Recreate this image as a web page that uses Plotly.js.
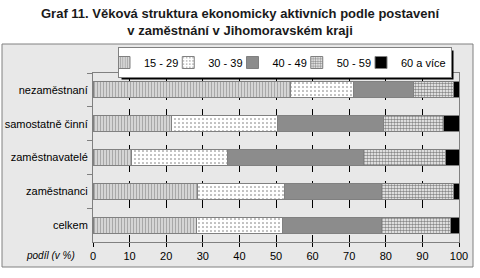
<!DOCTYPE html>
<html>
<head>
<meta charset="utf-8">
<script src="https://cdn.plot.ly/plotly-3.0.1.min.js"></script>
<style>html,body{margin:0;padding:0;background:#fff;}#chart{width:480px;height:278px;}</style>
</head>
<body>
<div id="chart"></div>
<script>
const categories = ["nezaměstnaní", "samostatně činní", "zaměstnavatelé", "zaměstnanci", "celkem"];
const seriesNames = ["15 - 29", "30 - 39", "40 - 49", "50 - 59", "60 a více"];
const v15_29 = [54.0, 21.5, 10.4, 28.6, 28.3];
const v30_39 = [17.3, 28.9, 26.4, 23.6, 23.5];
const v40_49 = [16.2, 29.1, 37.1, 26.7, 27.1];
const v50_59 = [10.9, 16.2, 22.5, 19.5, 18.8];
const v60plus = [1.6, 4.3, 3.6, 1.6, 2.3];
const xTicks = [0, 10, 20, 30, 40, 50, 60, 70, 80, 90, 100];

const seriesValues = [v15_29, v30_39, v40_49, v50_59, v60plus];
const styles = [
  {color: "#ffffff", pattern: {shape: "|", fgcolor: "#a8a8a8", bgcolor: "#ffffff", size: 3, solidity: 0.65}},
  {color: "#ffffff", pattern: {shape: ".", fgcolor: "#707070", bgcolor: "#ffffff", size: 4, solidity: 0.12}},
  {color: "#8c8c8c"},
  {color: "#ffffff", pattern: {shape: ".", fgcolor: "#8a8a8a", bgcolor: "#ffffff", size: 3, solidity: 0.55}},
  {color: "#000000"}
];

const traces = seriesNames.map((name, i) => ({
  type: "bar",
  orientation: "h",
  name: name,
  y: categories,
  x: seriesValues[i],
  marker: Object.assign({line: {color: "#808080", width: 1}}, styles[i]),
  hoverinfo: "x+name"
}));

const M = {l: 93, r: 21, t: 73, b: 36};
const plotW = 480 - M.l - M.r, plotH = 278 - M.t - M.b;
const pxToPaperX = px => (px - M.l) / plotW;
const pxToPaperY = py => (278 - M.b - py) / plotH;

const panelShape = {type: "rect", xref: "paper", yref: "paper",
  x0: pxToPaperX(2), x1: pxToPaperX(473), y0: pxToPaperY(267), y1: pxToPaperY(44),
  fillcolor: "#e8e8e8", line: {color: "#808080", width: 1}, layer: "below"};

const layout = {
  width: 480, height: 278,
  margin: M,
  paper_bgcolor: "#ffffff",
  plot_bgcolor: "#ffffff",
  barmode: "stack",
  bargap: 0.53,
  font: {family: "Liberation Sans, Arial, sans-serif", size: 11, color: "#000"},
  xaxis: {
    range: [0, 100], tickvals: xTicks, ticktext: xTicks.map(String),
    showgrid: true, gridcolor: "#000", griddash: "dash", gridwidth: 1,
    ticks: "outside", ticklen: 4, tickcolor: "#000",
    showline: true, linecolor: "#808080", mirror: true,
    zeroline: false, fixedrange: true
  },
  yaxis: {
    autorange: "reversed", type: "category",
    ticks: "outside", ticklen: 5, tickcolor: "#808080", tickson: "boundaries",
    showline: true, linecolor: "#808080", mirror: true,
    showgrid: false, ticklabelstandoff: 2, fixedrange: true
  },
  legend: {
    orientation: "h", x: pxToPaperX(285), xanchor: "center", y: pxToPaperY(47), yanchor: "top",
    bgcolor: "#ffffff", bordercolor: "#808080", borderwidth: 1,
    font: {size: 11}, itemwidth: 30, indentation: -15, traceorder: "normal", itemclick: false
  },
  shapes: [panelShape],
  annotations: [
    {text: "<b>Graf 11. Věková struktura ekonomicky aktivních podle postavení<br>v zaměstnání v Jihomoravském kraji</b>",
     xref: "paper", yref: "paper", x: pxToPaperX(240), y: pxToPaperY(4), xanchor: "center", yanchor: "top",
     showarrow: false, font: {size: 13, color: "#1a1a1a"}},
    {text: "<i>podíl (v %)</i>", xref: "paper", yref: "paper", x: pxToPaperX(50), y: pxToPaperY(255),
     showarrow: false, font: {size: 10}, xanchor: "center", yanchor: "middle"}
  ]
};

const gd = document.getElementById("chart");
Plotly.newPlot(gd, traces, layout, {displayModeBar: false, staticPlot: true}).then(() => {
  const bg = gd.querySelector(".legend .bg");
  if (!bg) return;
  const r = bg.getBoundingClientRect();
  const g = gd.getBoundingClientRect();
  const L = r.left - g.left, T = r.top - g.top, R = r.right - g.left, B = r.bottom - g.top;
  const shadow = {type: "rect", xref: "paper", yref: "paper",
    x0: pxToPaperX(L + 3), x1: pxToPaperX(R + 2), y0: pxToPaperY(B + 2), y1: pxToPaperY(T + 3),
    fillcolor: "#000000", line: {width: 0}, layer: "above"};
  return Plotly.relayout(gd, {shapes: [panelShape, shadow]});
});
</script>
</body>
</html>
